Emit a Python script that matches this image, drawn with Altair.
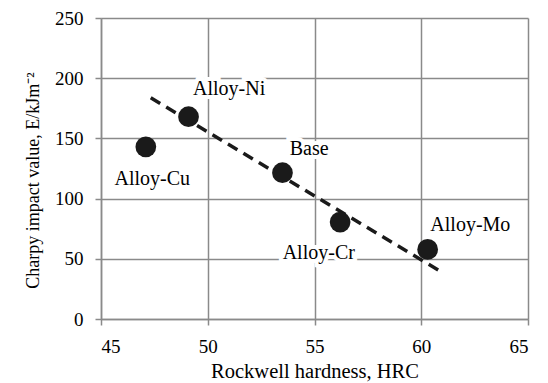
import altair as alt
import pandas as pd

names = ["Alloy-Cu", "Alloy-Ni", "Base", "Alloy-Cr", "Alloy-Mo"]
hardness = [47.1, 49.1, 53.5, 56.2, 60.3]
impact = [143, 168, 121.5, 80.5, 57.8]
label_x = [47.4, 51.0, 54.75, 55.2, 62.3]
label_y = [116.6, 190.8, 141.3, 54.7, 77.8]

trend_x = [47.33, 61.03]
trend_y = [183.7, 38.2]

pts = pd.DataFrame({"name": names, "x": hardness, "y": impact, "lx": label_x, "ly": label_y})
trend = pd.DataFrame({"x": trend_x, "y": trend_y})

FONT = "Liberation Serif"
GRID = "#8a8a8a"

xscale = alt.Scale(domain=[45, 65], nice=False, zero=False)
yscale = alt.Scale(domain=[0, 250], nice=False)

xaxis = alt.Axis(values=[45, 50, 55, 60, 65], title="Rockwell hardness, HRC",
                 grid=True, gridColor=GRID, gridWidth=1.5, domainColor=GRID, domainWidth=1.5,
                 tickColor=GRID, tickWidth=1.5, tickSize=6, labelPadding=12,
                 labelFont=FONT, labelFontSize=19, labelColor="black",
                 titleFont=FONT, titleFontSize=20.5, titleFontWeight="normal", titleColor="black",
                 titlePadding=5)
yaxis = alt.Axis(values=[0, 50, 100, 150, 200, 250], title="Charpy impact value, E/kJm⁻²",
                 grid=True, gridColor=GRID, gridWidth=1.5, domainColor=GRID, domainWidth=1.5,
                 tickColor=GRID, tickWidth=1.5, tickSize=6, labelPadding=12,
                 labelFont=FONT, labelFontSize=19, labelColor="black",
                 titleFont=FONT, titleFontSize=18, titleFontWeight="normal", titleColor="black",
                 titlePadding=12, titleY=162)

base = alt.Chart(pts)

points = base.mark_circle(size=430, color="#1a1a1a", opacity=1).encode(
    x=alt.X("x:Q", scale=xscale, axis=xaxis),
    y=alt.Y("y:Q", scale=yscale, axis=yaxis),
)

line = alt.Chart(trend).mark_line(color="#1a1a1a", strokeWidth=3.5, strokeDash=[11, 7]).encode(
    x=alt.X("x:Q", scale=xscale),
    y=alt.Y("y:Q", scale=yscale),
)

halo = base.mark_text(font=FONT, fontSize=20, stroke="white", strokeWidth=8,
                      strokeJoin="miter", color="white").encode(
    x=alt.X("lx:Q", scale=xscale), y=alt.Y("ly:Q", scale=yscale), text="name:N")

labels = base.mark_text(font=FONT, fontSize=20, color="black").encode(
    x=alt.X("lx:Q", scale=xscale), y=alt.Y("ly:Q", scale=yscale), text="name:N")

chart = alt.layer(halo, line, points, labels).properties(
    width=427, height=301,
    autosize=alt.AutoSizeParams(type="none"),
    padding={"left": 93, "top": 10, "right": 12, "bottom": 64},
).configure_view(stroke=None)

chart.save("out.html", embed_options={"renderer": "svg", "actions": False})
